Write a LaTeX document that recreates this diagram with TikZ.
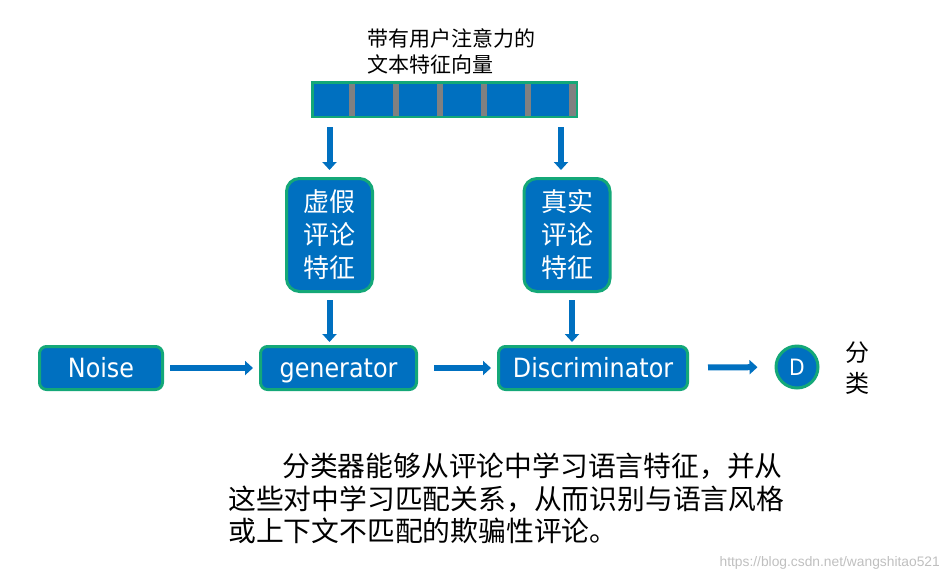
\documentclass[tikz,border=0pt]{standalone}
\usepackage{fontspec}
\setmainfont{Liberation Sans}
\newfontfamily\cjk{Noto Sans CJK SC}
\newfontfamily\boxfont{DejaVu Sans Condensed}
\usetikzlibrary{positioning}
\usetikzlibrary{arrows.meta}

\definecolor{boxblue}{RGB}{0,112,192}
\definecolor{boxgreen}{RGB}{20,168,120}
\definecolor{sepgray}{RGB}{128,128,128}

\begin{document}
\begin{tikzpicture}[x = 1pt, y = -1pt,
		block/.style = {draw = boxgreen, fill = boxblue, line width = 3pt, rounded corners = 7pt, inner sep = 0pt, text = white, font = \boxfont\fontsize{26.5pt}{30pt}\selectfont},
		stage/.style = {block, minimum height = 43pt, text height = 21pt, text depth = 2pt},
		review/.style = {block, rounded corners = 13pt, minimum width = 86pt, minimum height = 113pt, align = center, font = \cjk\fontsize{26pt}{33pt}\selectfont},
		flow/.style = {draw = boxblue, line width = 6pt, -{Triangle[length = 8pt, width = 14pt]}}]
	\useasboundingbox (0, 0) rectangle (950, 582);
	% feature vector
	\node at (367, 51) [anchor = west, inner sep = 0pt, align = left, font = \cjk\fontsize{21pt}{26pt}\selectfont] (title) {带有用户注意力的\\文本特征向量};
	\fill [sepgray] (311, 81) rectangle (578, 118);
	\foreach \i in {0, ..., 5}
		\fill [boxblue] ({311 + 44 * \i}, 82) rectangle ({349 + 44 * \i}, 117);
	\node at (444.5, 99.5) [draw = boxgreen, line width = 2.5pt, minimum width = 264.5pt, minimum height = 34.5pt, inner sep = 0pt] (vec) {};
	% review features
	\node at (329.5, 235) [review] (fake) {虚假\\评论\\特征};
	\node at (567, 235) [review] (real) {真实\\评论\\特征};
	% main line
	\node at (101, 368) [stage, minimum width = 123pt] (noise) {Noise};
	\node at (338.5, 368) [stage, minimum width = 156pt] (gen) {generator};
	\node at (593, 368) [stage, minimum width = 189pt] (disc) {Discriminator};
	\node at (797, 367) [block, circle, minimum size = 42pt, font = \boxfont\fontsize{22.5pt}{26pt}\selectfont] (d) {D};
	\node at (857, 368) [align = center, inner sep = 0pt, font = \cjk\fontsize{24pt}{31pt}\selectfont] (cls) {分\\类};
	% arrows
	\draw [flow, shorten <= 9pt, shorten >= 7pt] (fake.north |- vec.south) -- (fake.north);
	\draw [flow, shorten <= 9pt, shorten >= 7pt] ([xshift = -6pt]real.north |- vec.south) -- ([xshift = -6pt]real.north);
	\draw [flow, shorten <= 7pt, shorten >= 3pt] (fake.south) -- (fake.south |- gen.north);
	\draw [flow, shorten <= 7pt, shorten >= 3pt] ([xshift = 5pt]real.south) -- ([xshift = 5pt]real.south |- disc.north);
	\draw [flow, shorten <= 6pt, shorten >= 6pt] (noise) -- (gen);
	\draw [flow, shorten <= 16pt, shorten >= 6pt] (gen) -- (disc);
	\draw [flow, shorten <= 19pt, shorten >= 17pt] (disc) -- (d);
	% explanation
	\node at (228, 453) [anchor = north west, inner sep = 0pt, align = left, font = \cjk\fontsize{27.8pt}{32.5pt}\selectfont] (note) {\hspace*{54pt}分类器能够从评论中学习语言特征，并从\\这些对中学习匹配关系，从而识别与语言风格\\或上下文不匹配的欺骗性评论。};
	\node at (940, 563) [anchor = east, inner sep = 0pt, text = black!25, font = \fontsize{13.8pt}{16pt}\selectfont] (mark) {https://blog.csdn.net/wangshitao521};
\end{tikzpicture}
\end{document}
